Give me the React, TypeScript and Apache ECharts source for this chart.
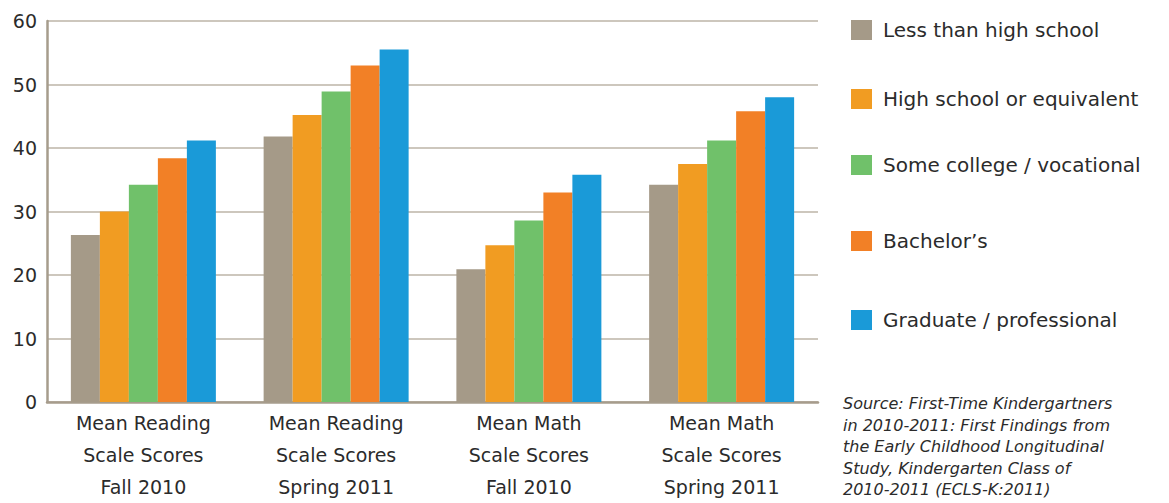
import React, { useEffect, useRef } from "react";
import * as echarts from "echarts";

const categories = [
  "Mean Reading\nScale Scores\nFall 2010",
  "Mean Reading\nScale Scores\nSpring 2011",
  "Mean Math\nScale Scores\nFall 2010",
  "Mean Math\nScale Scores\nSpring 2011",
];
const seriesNames = [
  "Less than high school",
  "High school or equivalent",
  "Some college / vocational",
  "Bachelor’s",
  "Graduate / professional",
];
const lessThanHS = [26.3, 41.8, 20.9, 34.2];
const highSchool = [30.0, 45.2, 24.7, 37.5];
const someCollege = [34.2, 48.9, 28.6, 41.2];
const bachelors = [38.4, 53.0, 33.0, 45.8];
const graduate = [41.2, 55.5, 35.8, 48.0];
const colors = ["#a59a88", "#f19c22", "#70c16a", "#f28026", "#1a9ad8"];
const legendTops = [15, 84, 150, 226, 305];
const sourceText =
  "Source: First-Time Kindergartners\nin 2010-2011: First Findings from\nthe Early Childhood Longitudinal\nStudy, Kindergarten Class of\n2010-2011 (ECLS-K:2011)";

const FONT = "DejaVu Sans";

export default function App() {
  const ref = useRef<HTMLDivElement>(null);
  useEffect(() => {
    if (!ref.current) return;
    const chart = echarts.init(ref.current, null, { renderer: "svg" });
    const values = [lessThanHS, highSchool, someCollege, bachelors, graduate];
    chart.setOption({
      animation: false,
      backgroundColor: "#ffffff",
      grid: { left: 47, right: 351, top: 21, bottom: 96, containLabel: false },
      legend: seriesNames.map((name, i) => ({
        data: [name],
        left: 846,
        top: legendTops[i],
        orient: "vertical",
        itemWidth: 21,
        itemHeight: 20,
        itemGap: 15,
        icon: "rect",
        selectedMode: false,
        textStyle: { fontFamily: FONT, fontSize: 20, color: "#2b2b2b", padding: [0, 0, 0, 6] },
      })),
      xAxis: {
        type: "category",
        data: categories,
        axisTick: { show: false },
        axisLine: { show: true, lineStyle: { color: "#a69c8c", width: 2.5 } },
        axisLabel: {
          fontFamily: FONT,
          fontSize: 19,
          color: "#2b2b2b",
          lineHeight: 32,
          margin: 5,
          interval: 0,
        },
      },
      yAxis: {
        type: "value",
        min: 0,
        max: 60,
        interval: 10,
        axisLine: { show: true, lineStyle: { color: "#a69c8c", width: 2.5 } },
        axisTick: { show: false },
        splitLine: { show: true, lineStyle: { color: "#bdb5a7", width: 1.5 } },
        axisLabel: { fontFamily: FONT, fontSize: 19, color: "#2b2b2b", margin: 10 },
      },
      series: seriesNames.map((name, i) => ({
        name,
        type: "bar",
        data: values[i],
        barWidth: 29,
        barGap: "0%",
        barCategoryGap: "25%",
        itemStyle: { color: colors[i] },
      })),
      graphic: [
        {
          type: "text",
          left: 843,
          top: 393,
          style: {
            text: sourceText,
            font: `italic 16px ${FONT}`,
            fill: "#2b2b2b",
            lineHeight: 21.5,
          },
        },
      ],
    });
    return () => chart.dispose();
  }, []);
  return (
    <div
      ref={ref}
      style={{ position: "fixed", left: 0, top: 0, width: 1169, height: 503, overflow: "hidden" }}
    />
  );
}
